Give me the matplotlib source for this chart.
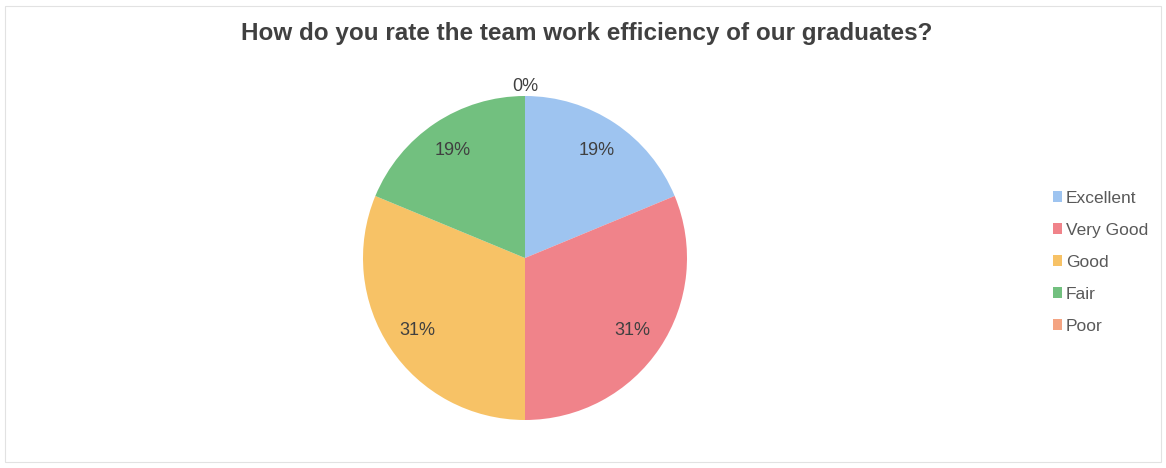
import math
import matplotlib.pyplot as plt
from matplotlib.patches import Rectangle

categories = ['Excellent', 'Very Good', 'Good', 'Fair', 'Poor']
responses = [3, 5, 5, 3, 0]
colors = ['#9ec4f0', '#f0838a', '#f7c266', '#72c07f', '#f4a482']
title = 'How do you rate the team work efficiency of our graduates?'


def main():
    plt.rcParams['font.family'] = ['Liberation Sans', 'DejaVu Sans']

    fig = plt.figure(figsize=(11.66, 4.68), dpi=100)
    fig.patch.set_facecolor('white')
    fig.patches.append(Rectangle((0.004, 0.012), 0.992, 0.976, transform=fig.transFigure,
                                 fill=False, edgecolor='#e2e2e2', linewidth=0.8))

    # square axes box, 324 px wide, centred on the pie
    ax = fig.add_axes([(525 - 162) / 1166, (468 - 258 - 162) / 468, 324 / 1166, 324 / 468])
    wedges, _ = ax.pie(responses, colors=colors, startangle=90, counterclock=False,
                       radius=1, wedgeprops=dict(linewidth=0))
    ax.set_xlim(-1, 1)
    ax.set_ylim(-1, 1)
    ax.set_aspect('equal')
    ax.axis('off')

    total = sum(responses)
    for w, v in zip(wedges, responses):
        pct = 100 * v / total
        mid = (w.theta1 + w.theta2) / 2
        r = 0.8 if v > 0 else 1.06
        x = r * math.cos(math.radians(mid))
        y = r * math.sin(math.radians(mid))
        ax.text(x, y, f'{pct:.0f}%', ha='center', va='center',
                fontsize=13, color='#404040')

    fig.text(0.503, 0.928, title, ha='center', va='center', fontsize=17.5,
             fontweight='bold', color='#404040')

    fig.legend(wedges, categories, loc='center left', bbox_to_anchor=(1044 / 1166, 0.44),
               frameon=False, fontsize=12.5, labelcolor='#595959',
               handlelength=0.55, handleheight=0.55, handletextpad=0.2,
               labelspacing=0.98, borderpad=0)

    fig.savefig('out.png', dpi=100)


if __name__ == '__main__':
    main()
